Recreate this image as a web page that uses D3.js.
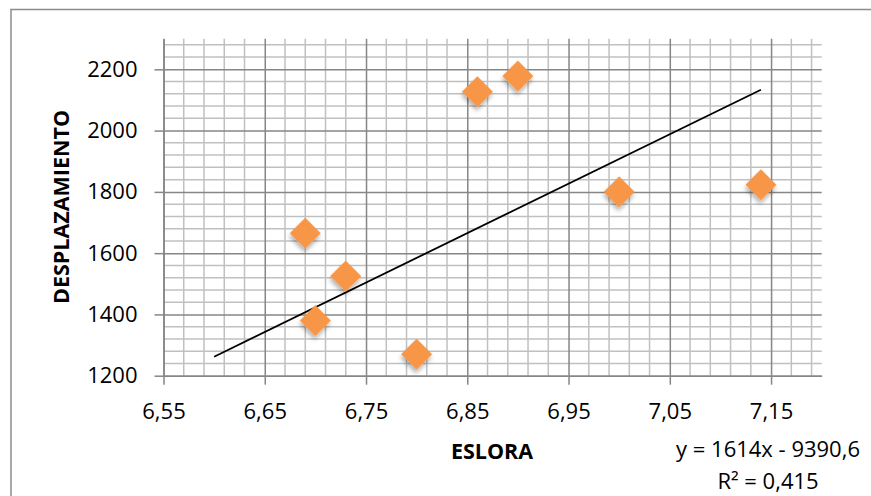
<!DOCTYPE html>
<html>
<head>
<meta charset="utf-8">
<script src="https://cdn.jsdelivr.net/npm/d3@7"></script>
<style>
  body { margin: 0; background: #fff; }
  text { font-family: "Open Sans", "Liberation Sans", sans-serif; fill: #000; }
</style>
</head>
<body>
<div id="chart"></div>
<script>
// data
const eslora = [6.69, 6.70, 6.73, 6.80, 6.86, 6.90, 7.00, 7.14]
const desplazamiento = [1665, 1380, 1525, 1270, 2127, 2178, 1800, 1823]

const x_ticks = [6.55, 6.65, 6.75, 6.85, 6.95, 7.05, 7.15]
const y_ticks = [1200, 1400, 1600, 1800, 2000, 2200]

// linear trend y = a*x + b, drawn over this x range
const trend_coef = [1614, -9390.6]
const trend_range = [6.60, 7.14]
const trend_label = ["y = 1614x - 9390,6", "R² = 0,415"]

const x_title = "ESLORA"
const y_title = "DESPLAZAMIENTO"

// constants
const width = 871
const height = 496
const plot = { left: 163.5, right: 821.7, top: 38.7, bottom: 375.7 }
const x_domain = [6.55, 7.2]
const y_domain = [1200, 2300]
const x_minor = 0.02
const y_minor = 40
const color_marker = "#f79646"
const font_size = 22
const title_size = 21.5

const svg = d3.select("#chart")
    .append("svg")
        .attr("width", width)
        .attr("height", height);

// soft shadow for the markers
const defs = svg.append("defs");
defs.append("filter")
    .attr("id", "shadow")
    .attr("x", "-50%").attr("y", "-50%")
    .attr("width", "200%").attr("height", "200%")
    .append("feDropShadow")
        .attr("dx", 2)
        .attr("dy", 3)
        .attr("stdDeviation", 2)
        .attr("flood-color", "#000")
        .attr("flood-opacity", 0.3);

// chart border
svg.append("rect")
    .attr("x", 11)
    .attr("y", 9.5)
    .attr("width", width + 20)
    .attr("height", height + 20)
    .attr("fill", "none")
    .attr("stroke", "#8c8c8c")
    .attr("stroke-width", 1.5);

const x = d3.scaleLinear().domain(x_domain).range([plot.left, plot.right]);
const y = d3.scaleLinear().domain(y_domain).range([plot.bottom, plot.top]);

const fmt = d3.format(".2f");
const comma = v => fmt(v).replace(".", ",");

// minor grid
const x_grid = d3.range(x_domain[0] + x_minor, x_domain[1] - 1e-9, x_minor)
    .filter(v => !x_ticks.some(t => Math.abs(t - v) < 1e-6));
const y_grid = d3.range(y_domain[0] + y_minor, y_domain[1], y_minor)
    .filter(v => !y_ticks.includes(v));

const grid = svg.append("g");
grid.selectAll("line.xminor")
    .data(x_grid)
    .join("line")
        .attr("x1", d => x(d)).attr("x2", d => x(d))
        .attr("y1", plot.top).attr("y2", plot.bottom)
        .attr("stroke", "#c0c0c0")
        .attr("stroke-width", 1.5);
grid.selectAll("line.yminor")
    .data(y_grid)
    .join("line")
        .attr("x1", plot.left).attr("x2", plot.right)
        .attr("y1", d => y(d)).attr("y2", d => y(d))
        .attr("stroke", "#c0c0c0")
        .attr("stroke-width", 1.5);

// major grid
svg.append("g")
    .attr("transform", `translate(0, ${plot.bottom})`)
    .call(d3.axisBottom(x)
            .tickValues(x_ticks)
            .tickSize(-(plot.bottom - plot.top))
            .tickFormat(""))
    .call(g => g.select(".domain").remove())
    .call(g => g.selectAll("line").attr("stroke", "#868686").attr("stroke-width", 1.5));

svg.append("g")
    .attr("transform", `translate(${plot.left}, 0)`)
    .call(d3.axisLeft(y)
            .tickValues(y_ticks)
            .tickSize(-(plot.right - plot.left))
            .tickFormat(""))
    .call(g => g.select(".domain").remove())
    .call(g => g.selectAll("line").attr("stroke", "#868686").attr("stroke-width", 1.5));

// axis lines with outer ticks and labels
const x_axis = svg.append("g")
    .attr("transform", `translate(0, ${plot.bottom})`)
    .call(d3.axisBottom(x)
            .tickValues(x_ticks)
            .tickSizeInner(9)
            .tickSizeOuter(0)
            .tickPadding(19)
            .tickFormat(comma));
x_axis.select(".domain").attr("stroke", "#868686").attr("stroke-width", 1.5);
x_axis.selectAll("line").attr("stroke", "#868686").attr("stroke-width", 1.5);
x_axis.selectAll("text").style("font-size", font_size + "px").attr("fill", "#000");

const y_axis = svg.append("g")
    .attr("transform", `translate(${plot.left}, 0)`)
    .call(d3.axisLeft(y)
            .tickValues(y_ticks)
            .tickSizeInner(9)
            .tickSizeOuter(0)
            .tickPadding(17)
            .tickFormat(d3.format("d")));
y_axis.select(".domain").attr("stroke", "#868686").attr("stroke-width", 1.5);
y_axis.selectAll("line").attr("stroke", "#868686").attr("stroke-width", 1.5);
y_axis.selectAll("text").style("font-size", font_size + "px").attr("fill", "#000");

// trend line
svg.append("path")
    .datum(trend_range)
    .attr("d", d3.line()
        .x(d => x(d))
        .y(d => y(trend_coef[0] * d + trend_coef[1])))
    .attr("stroke", "#000")
    .attr("stroke-width", 1.8)
    .attr("fill", "none");

// markers
const points = eslora.map((v, i) => ({ x: v, y: desplazamiento[i] }));
svg.selectAll("path.marker")
    .data(points)
    .join("path")
        .attr("class", "marker")
        .attr("d", d3.symbol(d3.symbolSquare, 480))
        .attr("transform", d => `translate(${x(d.x)}, ${y(d.y)}) rotate(45)`)
        .attr("fill", color_marker)
        .attr("filter", "url(#shadow)");

// titles
svg.append("text")
    .attr("x", 492)
    .attr("y", 450)
    .attr("text-anchor", "middle")
    .attr("dominant-baseline", "central")
    .style("font-size", title_size + "px")
    .style("font-weight", "bold")
    .text(x_title);

svg.append("text")
    .attr("transform", "translate(60, 207) rotate(-90)")
    .attr("text-anchor", "middle")
    .attr("dominant-baseline", "central")
    .style("font-size", title_size + "px")
    .style("font-weight", "bold")
    .text(y_title);

// trend equation
svg.selectAll("text.eq")
    .data(trend_label)
    .join("text")
        .attr("class", "eq")
        .attr("x", 768)
        .attr("y", (d, i) => 448 + i * 32)
        .attr("text-anchor", "middle")
        .attr("dominant-baseline", "central")
        .style("font-size", font_size + "px")
        .text(d => d);
</script>
</body>
</html>
